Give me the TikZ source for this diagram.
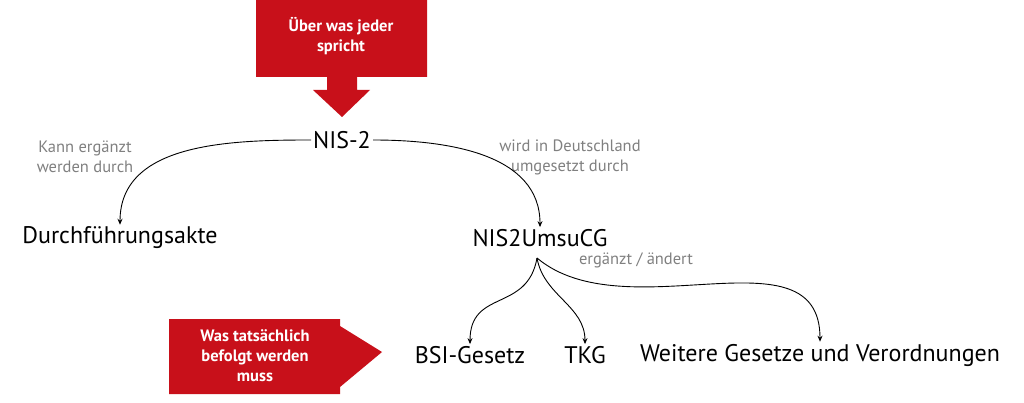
\documentclass[tikz,border=0pt]{standalone}
\usepackage{fontspec}
\setmainfont{PT Sans}
\usetikzlibrary{arrows.meta,positioning}
\definecolor{nisred}{HTML}{C8101A}
\definecolor{notegray}{HTML}{808080}
\begin{document}
\begin{tikzpicture}[x=1pt,y=-1pt,
    term/.style={font=\fontsize{24}{27}\selectfont, text=black, inner sep=2pt},
    note/.style={font=\fontsize{16.5}{20}\selectfont, text=notegray, align=center},
    banner/.style={fill=nisred, draw=none},
    bannertext/.style={font=\fontsize{16.5}{20}\selectfont\bfseries, text=white, align=center},
    link/.style={-{Stealth[length=6pt,width=5pt]}, line width=0.9pt, black}
]
    \useasboundingbox (0,0) rectangle (1024,403);
    % Red arrows
    \fill[banner] (256,0) -- (427,0) -- (427,77) -- (357,77) -- (357,90) -- (370,90)
        -- (342,117) -- (313,90) -- (327,90) -- (327,77) -- (256,77) -- cycle;
    \node[bannertext] (hype) at (341,36) {Über was jeder\\spricht};
    \fill[banner] (169,319) -- (340,319) -- (340,326) -- (382,352) -- (340,387)
        -- (340,394) -- (169,394) -- cycle;
    \node[bannertext] (duty) at (255,356) {Was tatsächlich\\befolgt werden\\muss};
    % Terms
    \node[term] (nis) at (342,140) {NIS-2};
    \node[term] (dfa) at (120,238) {Durchführungsakte};
    \node[term] (umsucg) at (540,238) {NIS2UmsuCG};
    \node[term] (bsig) at (470,355) {BSI-Gesetz};
    \node[term] (tkg) at (585,355) {TKG};
    \node[term] (more) at (820,355) {Weitere Gesetze und Verordnungen};
    % Notes
    \node[note] (n1) at (85,157) {Kann ergänzt\\werden durch};
    \node[note] (n2) at (570,157) {wird in Deutschland\\umgesetzt durch};
    \node[note] (n3) at (636,260) {ergänzt / ändert};
    % Links
    \draw[link] (nis.west) to[out=180,in=90] (dfa.north);
    \draw[link] (nis.east) to[out=0,in=90] (umsucg.north);
    \coordinate (fork) at (537,258);
    \draw[link] (fork) to[out=-100,in=90,looseness=1.3] (bsig.north);
    \draw[link] (fork) to[out=-80,in=90] (tkg.north);
    \draw[link] (fork) to[out=-40,in=90] (more.north);
\end{tikzpicture}
\end{document}
